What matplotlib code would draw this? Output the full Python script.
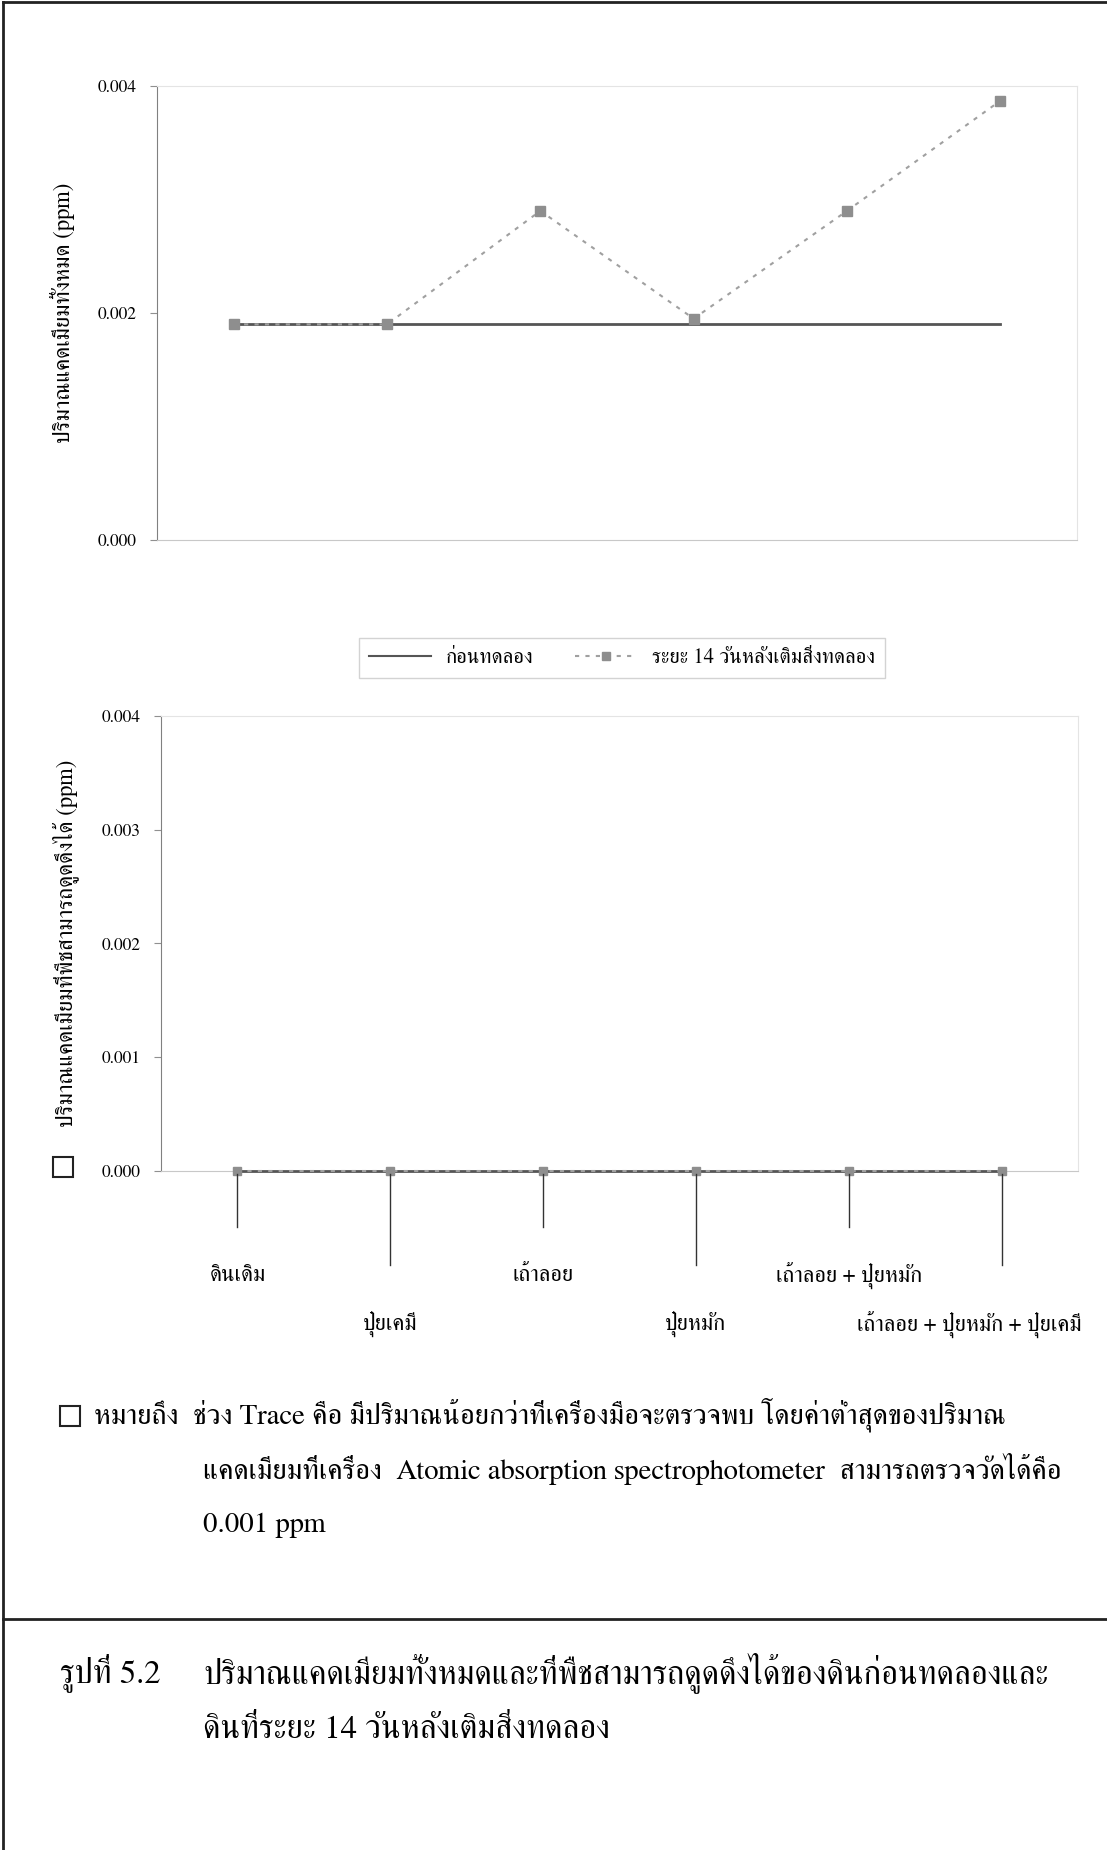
import numpy as np
import matplotlib
matplotlib.use("Agg")
import matplotlib.pyplot as plt
from matplotlib.lines import Line2D
from matplotlib.patches import Rectangle

# --- data ---
groups = ['ดินเดิม', 'ปุ๋ยเคมี', 'เถ้าลอย', 'ปุ๋ยหมัก',
          'เถ้าลอย + ปุ๋ยหมัก', 'เถ้าลอย + ปุ๋ยหมัก + ปุ๋ยเคมี']
series_names = ['ก่อนทดลอง', 'ระยะ 14 วันหลังเติมสิ่งทดลอง']
total_before = [0.0019, 0.0019, 0.0019, 0.0019, 0.0019, 0.0019]
total_after = [0.0019, 0.0019, 0.0029, 0.00195, 0.0029, 0.00387]
avail_before = [0.0, 0.0, 0.0, 0.0, 0.0, 0.0]
avail_after = [0.0, 0.0, 0.0, 0.0, 0.0, 0.0]
top_ticks = [0.000, 0.002, 0.004]
bottom_ticks = [0.000, 0.001, 0.002, 0.003, 0.004]
ylabel_top = 'ปริมาณแคดเมียมทั้งหมด (ppm)'
ylabel_bottom = 'ปริมาณแคดเมียมที่พืชสามารถดูดดึงได้ (ppm)'
note_lines = ['หมายถึง  ช่วง Trace คือ มีปริมาณน้อยกว่าที่เครื่องมือจะตรวจพบ โดยค่าต่ำสุดของปริมาณ',
              'แคดเมียมที่เครื่อง  Atomic absorption spectrophotometer  สามารถตรวจวัดได้คือ',
              '0.001 ppm']
caption_no = 'รูปที่ 5.2'
caption_lines = ['ปริมาณแคดเมียมทั้งหมดและที่พืชสามารถดูดดึงได้ของดินก่อนทดลองและ',
                 'ดินที่ระยะ 14 วันหลังเติมสิ่งทดลอง']

FAM = ['FreeSerif', 'Liberation Serif', 'Noto Serif Thai', 'DejaVu Sans']
plt.rcParams['font.family'] = FAM

W, H = 1107, 1850
fig = plt.figure(figsize=(W / 100, H / 100), dpi=100)
renderer = fig.canvas.get_renderer()


def fx(px):
    return px / W


def fy(py):
    return 1 - py / H


def fit_size(txt, target_px, base=20.0):
    # font size that makes txt about target_px wide
    t = fig.text(0, 0, txt, fontsize=base)
    w = t.get_window_extent(renderer=renderer).width
    t.remove()
    return base * target_px / w


solid_c = '#555555'
dot_c = '#a0a0a0'
mark_c = '#8e8e8e'
x = np.arange(len(groups))

fs_ylab = min(fit_size(ylabel_top, 260), fit_size(ylabel_bottom, 405))
fs_leg = fit_size(series_names[1], 222)
fs_cat = fit_size(groups[-1], 224)
fs_note = min(fit_size(note_lines[0], 968), fit_size(note_lines[1], 858))
fs_cap = fit_size(caption_lines[0], 842)


def style_axes(ax, ticks):
    ax.set_xlim(-0.5, len(groups) - 0.5)
    ax.set_ylim(0, 0.004)
    ax.set_yticks(ticks)
    ax.set_yticklabels(['%.3f' % t for t in ticks], fontsize=12.5)
    ax.set_xticks([])
    ax.tick_params(axis='y', length=5, width=0.8, color='#909090', pad=10)
    ax.spines['left'].set_color('#808080')
    ax.spines['bottom'].set_color('#c8c8c8')
    ax.spines['top'].set_color('#e4e4e4')
    ax.spines['right'].set_color('#e4e4e4')
    for s in ax.spines.values():
        s.set_linewidth(0.8)


# top chart: total cadmium
ax1 = fig.add_axes([fx(157), fy(540), fx(1077 - 157), (540 - 86) / H])
ax1.plot(x, total_before, color=solid_c, lw=2, zorder=3)
ax1.plot(x, total_after, color=dot_c, lw=1.5, ls=(0, (2, 3)), marker='s', ms=7,
         mfc=mark_c, mec=mark_c, zorder=4)
style_axes(ax1, top_ticks)
ax1.set_ylabel(ylabel_top, fontsize=fs_ylab, labelpad=16)

# legend
handles = [Line2D([], [], color=solid_c, lw=1.5),
           Line2D([], [], color=dot_c, lw=1.5, ls=(0, (2, 3)), marker='s', ms=6,
                  mfc=mark_c, mec=mark_c)]
fig.legend(handles, series_names, loc='center', bbox_to_anchor=(fx(622), fy(658)),
           ncol=2, frameon=True, fancybox=False, edgecolor='#c8c8c8', fontsize=fs_leg,
           handlelength=3.0, handletextpad=0.7, columnspacing=2.0, borderpad=0.5)

# bottom chart: plant-available cadmium
ax2 = fig.add_axes([fx(161), fy(1171), fx(1078 - 161), (1171 - 716) / H])
ax2.plot(x, avail_before, color=solid_c, lw=2, zorder=3, clip_on=False)
ax2.plot(x, avail_after, color=dot_c, lw=1.5, ls=(0, (2, 3)), marker='s', ms=6,
         mfc=mark_c, mec=mark_c, zorder=4, clip_on=False)
style_axes(ax2, bottom_ticks)
ax2.set_ylabel(ylabel_bottom, fontsize=fs_ylab, labelpad=16)

# trace symbol next to 0.000
fig.patches.append(Rectangle((fx(53), fy(1177)), fx(20), 20 / H, transform=fig.transFigure,
                             fill=False, ec='#222222', lw=1.5))

# category guide lines and labels under the bottom chart
for i, name in enumerate(groups):
    xd = ax2.transData.transform((i, 0))[0] / W
    if i % 2 == 0:
        y_end, y_lab = 1227, 1275
    else:
        y_end, y_lab = 1265, 1324
    fig.add_artist(Line2D([xd, xd], [fy(1174), fy(y_end)], color='#333333', lw=1))
    if i == len(groups) - 1:
        fig.text(fx(1082), fy(y_lab), name, ha='right', va='center', fontsize=fs_cat)
    else:
        fig.text(xd, fy(y_lab), name, ha='center', va='center', fontsize=fs_cat)

# note
fig.patches.append(Rectangle((fx(60), fy(1426)), fx(20), 20 / H, transform=fig.transFigure,
                             fill=False, ec='#222222', lw=1.5))
fig.text(fx(94), fy(1415), note_lines[0], ha='left', va='center', fontsize=fs_note)
fig.text(fx(203), fy(1469), note_lines[1], ha='left', va='center', fontsize=fs_note)
fig.text(fx(203), fy(1525), note_lines[2], ha='left', va='center', fontsize=fs_note)

# frame lines and caption
fig.add_artist(Line2D([fx(3), 1], [fy(2), fy(2)], color='#222222', lw=2))
fig.add_artist(Line2D([fx(3), fx(3)], [fy(2), 0], color='#222222', lw=2))
fig.add_artist(Line2D([fx(3), 1], [fy(1619), fy(1619)], color='#222222', lw=2))
fig.text(fx(60), fy(1673), caption_no, ha='left', va='center', fontsize=fs_cap)
fig.text(fx(203), fy(1673), caption_lines[0], ha='left', va='center', fontsize=fs_cap)
fig.text(fx(203), fy(1730), caption_lines[1], ha='left', va='center', fontsize=fs_cap)

fig.savefig('out.png', dpi=100, facecolor='white')
